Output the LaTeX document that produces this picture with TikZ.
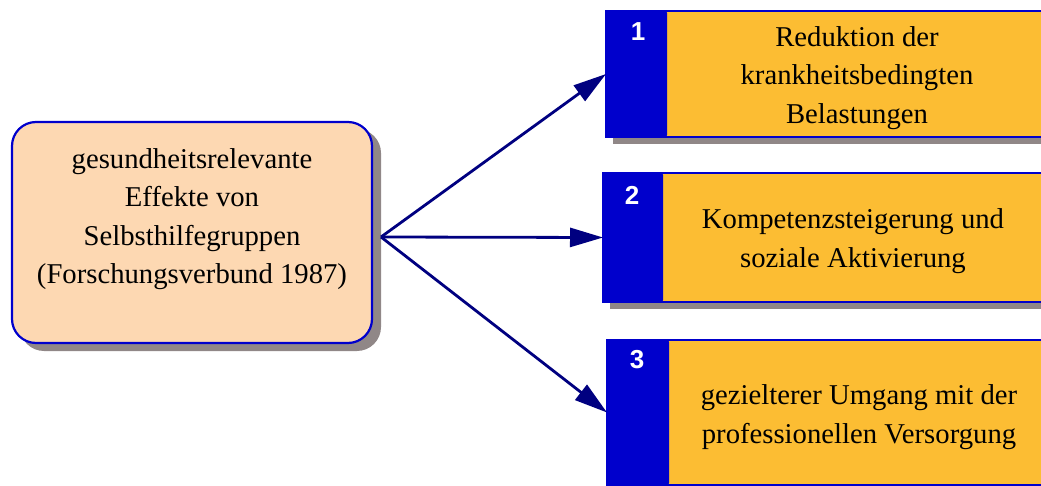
\documentclass[tikz,border=0pt]{standalone}
\usepackage{fontspec}
\setmainfont{Liberation Serif}
\newfontfamily\numfont{Liberation Sans}
\usetikzlibrary{arrows.meta,calc}
\definecolor{peach}{HTML}{FDD8B2}
\definecolor{boxorange}{HTML}{FCBD33}
\definecolor{stripblue}{HTML}{0000CC}
\definecolor{arrownavy}{HTML}{000080}
\definecolor{shadowgray}{HTML}{908787}
\begin{document}
\begin{tikzpicture}[x=1pt,y=-1pt,
  txt/.style={font=\fontsize{28.7}{38.5}\selectfont, align=center, text=black, inner sep=0pt},
  numtxt/.style={font=\numfont\bfseries\fontsize{26}{26}\selectfont, text=white, inner sep=0pt},
  shadowfill/.style={fill=shadowgray, draw=none},
  stripbox/.style={fill=stripblue, draw=none, rounded corners=2pt, inner sep=0pt, outer sep=0pt, anchor=north west},
  itembox/.style={fill=boxorange, draw=stripblue, line width=2pt, inner sep=0pt, outer sep=0pt, anchor=north west},
  mainbox/.style={fill=peach, draw=stripblue, line width=2.2pt, rounded corners=24pt, inner sep=0pt, outer sep=0pt},
  conn/.style={draw=arrownavy, line width=2.8pt, -{Triangle[length=33pt,width=19pt]}}
]
\useasboundingbox (0,0) rectangle (1041,486);
\clip (0,0) rectangle (1041,486);
% shadows
\fill[shadowfill, rounded corners=24pt] (20,129) rectangle (381,351);
\fill[shadowfill] (613,18) rectangle (1060,144);
\fill[shadowfill] (610,180) rectangle (1060,309);
\fill[shadowfill] (614,347) rectangle (1060,495);
% main box
\node[mainbox, minimum width=360pt, minimum height=221pt] (main) at (192,232.5) {};
\node[txt] (maintext) at (192,219) {gesundheitsrelevante\\Effekte von\\Selbsthilfegruppen\\(Forschungsverbund 1987)};
% item boxes
\node[itembox, minimum width=460pt, minimum height=126pt] (b1) at (606,11) {};
\node[stripbox, minimum width=61pt, minimum height=126pt] (s1) at (606,11) {};
\node[itembox, minimum width=460pt, minimum height=129pt] (b2) at (603,173) {};
\node[stripbox, minimum width=60pt, minimum height=129pt] (s2) at (603,173) {};
\node[itembox, minimum width=460pt, minimum height=145pt] (b3) at (607,340) {};
\node[stripbox, minimum width=62pt, minimum height=145pt] (s3) at (607,340) {};
% numbers
\node[numtxt] (n1) at (638,32) {1};
\node[numtxt] (n2) at (632,195) {2};
\node[numtxt] (n3) at (637,360) {3};
% texts
\node[txt] (t1) at (857,78) {Reduktion der\\krankheitsbedingten\\Belastungen};
\node[txt] (t2) at (853,241) {Kompetenzsteigerung und\\soziale Aktivierung};
\node[txt] (t3) at (859,417) {gezielterer Umgang mit der\\professionellen Versorgung};
% connectors
\coordinate (hub) at (381,237);
\draw[conn] (hub) -- (s1.west);
\draw[conn] (hub) -- (s2.west);
\draw[conn] (hub) -- (s3.west);
\end{tikzpicture}
\end{document}
